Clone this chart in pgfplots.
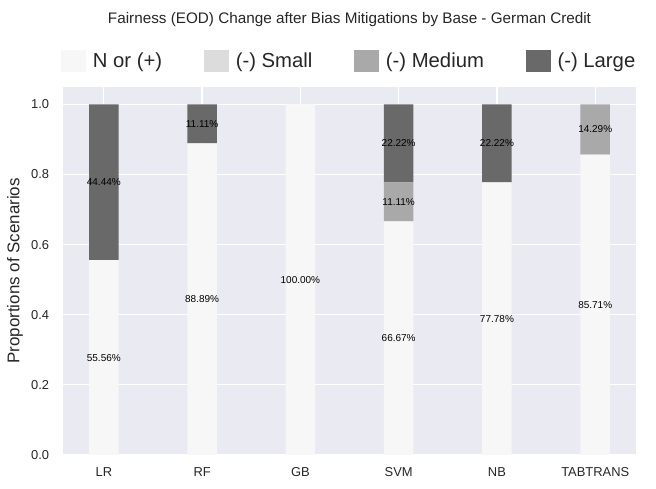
\documentclass[border=0pt]{standalone}
\usepackage{pgfplots}
\pgfplotsset{compat=1.18}
\usepackage{fontspec}
\setmainfont{Liberation Sans}
\definecolor{bgc}{HTML}{EAEAF2}
\definecolor{txt}{HTML}{262626}
\definecolor{cN}{HTML}{F7F7F7}
\definecolor{cS}{HTML}{DCDCDC}
\definecolor{cM}{HTML}{A9A9A9}
\definecolor{cL}{HTML}{696969}
\pgfplotsset{
  common/.style={
    scale only axis, width=412.6pt, height=265pt,
    xmin=-0.415, xmax=5.415, ymin=0, ymax=1.05,
  }
}
\begin{document}
\begin{tikzpicture}
\begin{axis}[
  common,
  ybar stacked, bar width=0.3,
  axis background/.style={fill=bgc},
  axis line style={draw=none},
  major tick length=0pt,
  grid=major, grid style={white, line width=0.9pt},
  xtick={0,1,2,3,4,5},
  xticklabels={LR,RF,GB,SVM,NB,TABTRANS},
  ytick={0,0.2,0.4,0.6,0.8,1.0},
  /pgf/number format/assume math mode=true,
  yticklabel style={/pgf/number format/fixed, /pgf/number format/fixed zerofill, /pgf/number format/precision=1, xshift=-6.5pt},
  tick label style={font=\fontsize{9.3}{11}\selectfont, text=txt},
  xticklabel style={yshift=-5.5pt},
  ylabel={Proportions of Scenarios},
  ylabel style={at={(axis description cs:-0.0839,0.5)}, anchor=center, font=\fontsize{12.2}{14}\selectfont, text=txt},
  title={Fairness (EOD) Change after Bias Mitigations by Base - German Credit},
  title style={at={(axis description cs:0.5,1)}, anchor=center, yshift=42.8pt, font=\fontsize{11}{13}\selectfont, text=txt},
  legend columns=4,
  legend style={at={(axis description cs:0.5,1)}, anchor=center, yshift=18.5pt,
    draw=none, fill=none, font=\fontsize{14.6}{17}\selectfont, text=txt,
    /tikz/every even column/.append style={column sep=28pt}},
  legend image code/.code={\fill[#1] (0pt,-8pt) rectangle (18pt,8pt); \path (21pt,0pt);},
]
\addplot[fill=cN, draw=none] coordinates {(0,0.5556) (1,0.8889) (2,1.0) (3,0.6667) (4,0.7778) (5,0.8571)};
\addplot[fill=cS, draw=none] coordinates {(0,0) (1,0) (2,0) (3,0) (4,0) (5,0)};
\addplot[fill=cM, draw=none] coordinates {(0,0) (1,0) (2,0) (3,0.1111) (4,0) (5,0.1429)};
\addplot[fill=cL, draw=none] coordinates {(0,0.4444) (1,0.1111) (2,0) (3,0.2222) (4,0.2222) (5,0)};
\legend{N or (+), (-) Small, (-) Medium, (-) Large}
\end{axis}
\begin{axis}[common, hide axis]
\addplot[draw=none, nodes near coords, point meta=explicit symbolic,
  every node near coord/.style={anchor=center, font=\fontsize{7.2}{8.5}\selectfont, text=black}]
coordinates {
(0,0.2778)[55.56\%] (0,0.7778)[44.44\%]
(1,0.4444)[88.89\%] (1,0.9444)[11.11\%]
(2,0.5)[100.00\%]
(3,0.3333)[66.67\%] (3,0.7222)[11.11\%] (3,0.8889)[22.22\%]
(4,0.3889)[77.78\%] (4,0.8889)[22.22\%]
(5,0.4286)[85.71\%] (5,0.9286)[14.29\%]
};
\end{axis}
\pgfresetboundingbox
\path[use as bounding box] ([xshift=-45.4pt,yshift=-24.5pt]current axis.south west) rectangle ([xshift=14.4pt,yshift=62.6pt]current axis.north east);
\end{tikzpicture}
\end{document}
